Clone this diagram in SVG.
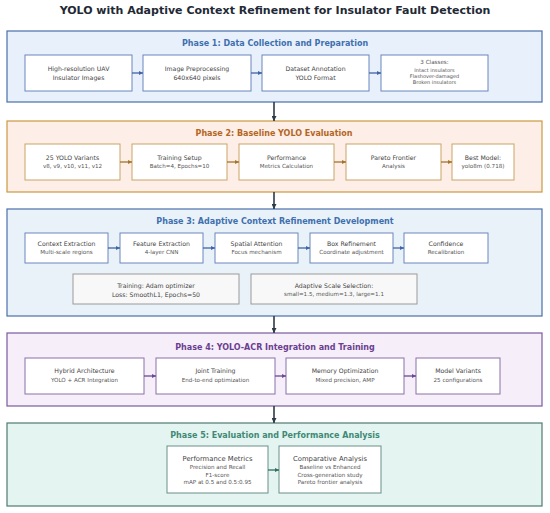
<svg xmlns="http://www.w3.org/2000/svg" width="550" height="513" viewBox="0 0 550 513">
<defs>
<marker id="ab" viewBox="0 0 10 10" refX="10" refY="5" markerWidth="4" markerHeight="4" orient="auto" markerUnits="userSpaceOnUse"><path d="M0,0 L10,5 L0,10 z" fill="#3f63a3"/></marker>
<marker id="ao" viewBox="0 0 10 10" refX="10" refY="5" markerWidth="4" markerHeight="4" orient="auto" markerUnits="userSpaceOnUse"><path d="M0,0 L10,5 L0,10 z" fill="#a5742c"/></marker>
<marker id="ap" viewBox="0 0 10 10" refX="10" refY="5" markerWidth="4" markerHeight="4" orient="auto" markerUnits="userSpaceOnUse"><path d="M0,0 L10,5 L0,10 z" fill="#6a4a92"/></marker>
<marker id="at" viewBox="0 0 10 10" refX="10" refY="5" markerWidth="4" markerHeight="4" orient="auto" markerUnits="userSpaceOnUse"><path d="M0,0 L10,5 L0,10 z" fill="#2f6f62"/></marker>
<marker id="ad" viewBox="0 0 10 10" refX="10" refY="5" markerWidth="5" markerHeight="5" orient="auto" markerUnits="userSpaceOnUse"><path d="M0,0 L10,5 L0,10 z" fill="#2d3a48"/></marker>
</defs>
<style>
text{font-family:"DejaVu Sans","Liberation Sans",sans-serif;text-anchor:middle;dominant-baseline:central}
.title{font-size:11px;font-weight:bold;fill:#1f2a36}
.pt{font-size:8px;font-weight:bold}
.l1{font-size:6.2px;fill:#444}
.l2{font-size:5.6px;fill:#555}
.l3{font-size:5px;fill:#555}
.sb{fill:#fff;stroke-width:1}
.c{fill:none;stroke-width:1.3}
</style>
<text class="title" x="275" y="10">YOLO with Adaptive Context Refinement for Insulator Fault Detection</text>

<g id="phase1">
<rect x="7" y="31" width="535" height="71" fill="#e8f1fb" stroke="#4a6ea9" stroke-width="1.2"/>
<text class="pt" x="275" y="43" fill="#3e6fae">Phase 1: Data Collection and Preparation</text>
</g>
<g id="p1n1"><rect class="sb" x="25" y="55" width="107" height="36" stroke="#6a86bd"/><text class="l1" x="78.5" y="68">High-resolution UAV</text><text class="l1" x="78.5" y="77">Insulator Images</text></g>
<g id="p1n2"><rect class="sb" x="143" y="55" width="108" height="36" stroke="#6a86bd"/><text class="l1" x="197" y="68">Image Preprocessing</text><text class="l1" x="197" y="77">640x640 pixels</text></g>
<g id="p1n3"><rect class="sb" x="262" y="55" width="107" height="36" stroke="#6a86bd"/><text class="l1" x="315.5" y="68">Dataset Annotation</text><text class="l1" x="315.5" y="77">YOLO Format</text></g>
<g id="p1n4"><rect class="sb" x="381" y="55" width="107" height="36" stroke="#6a86bd"/><text class="l2" x="434.5" y="62">3 Classes:</text><text class="l3" x="434.5" y="70">Intact insulators</text><text class="l3" x="434.5" y="76">Flashover-damaged</text><text class="l3" x="434.5" y="82">Broken insulators</text></g>

<g id="phase2">
<rect x="7" y="121" width="535" height="71" fill="#fdeee8" stroke="#c9993f" stroke-width="1.2"/>
<text class="pt" x="274" y="133" fill="#b3661e">Phase 2: Baseline YOLO Evaluation</text>
</g>
<g id="p2n1"><rect class="sb" x="25" y="144" width="95" height="36" stroke="#c9a465"/><text class="l1" x="72.5" y="157">25 YOLO Variants</text><text class="l2" x="72.5" y="166">v8, v9, v10, v11, v12</text></g>
<g id="p2n2"><rect class="sb" x="132" y="144" width="95" height="36" stroke="#c9a465"/><text class="l1" x="179.5" y="157">Training Setup</text><text class="l2" x="179.5" y="166">Batch=4, Epochs=10</text></g>
<g id="p2n3"><rect class="sb" x="239" y="144" width="95" height="36" stroke="#c9a465"/><text class="l1" x="286.5" y="157">Performance</text><text class="l2" x="286.5" y="166">Metrics Calculation</text></g>
<g id="p2n4"><rect class="sb" x="346" y="144" width="95" height="36" stroke="#c9a465"/><text class="l1" x="393.5" y="157">Pareto Frontier</text><text class="l2" x="393.5" y="166">Analysis</text></g>
<g id="p2n5"><rect class="sb" x="452" y="144" width="62" height="36" stroke="#c9a465"/><text class="l1" x="483" y="157">Best Model:</text><text class="l2" x="483" y="166">yolo8m (0.718)</text></g>

<g id="phase3">
<rect x="7" y="209" width="535" height="107" fill="#eaf2f9" stroke="#4a6ea9" stroke-width="1.2"/>
<text class="pt" x="275" y="221" fill="#3e6fae">Phase 3: Adaptive Context Refinement Development</text>
</g>
<g id="p3n1"><rect class="sb" x="25" y="233" width="83" height="30" stroke="#6a86bd"/><text class="l1" x="66.5" y="243">Context Extraction</text><text class="l2" x="66.5" y="252">Multi-scale regions</text></g>
<g id="p3n2"><rect class="sb" x="120" y="233" width="83" height="30" stroke="#6a86bd"/><text class="l1" x="161.5" y="243">Feature Extraction</text><text class="l2" x="161.5" y="252">4-layer CNN</text></g>
<g id="p3n3"><rect class="sb" x="215" y="233" width="83" height="30" stroke="#6a86bd"/><text class="l1" x="256.5" y="243">Spatial Attention</text><text class="l2" x="256.5" y="252">Focus mechanism</text></g>
<g id="p3n4"><rect class="sb" x="310" y="233" width="83" height="30" stroke="#6a86bd"/><text class="l1" x="351.5" y="243">Box Refinement</text><text class="l2" x="351.5" y="252">Coordinate adjustment</text></g>
<g id="p3n5"><rect class="sb" x="404" y="233" width="84" height="30" stroke="#6a86bd"/><text class="l1" x="446" y="243">Confidence</text><text class="l2" x="446" y="252">Recalibration</text></g>
<g id="p3n6"><rect x="73" y="274" width="166" height="30" fill="#f8f8f8" stroke="#9a9a9a"/><text class="l1" x="156" y="285">Training: Adam optimizer</text><text class="l1" x="156" y="294">Loss: SmoothL1, Epochs=50</text></g>
<g id="p3n7"><rect x="251" y="274" width="166" height="30" fill="#f8f8f8" stroke="#9a9a9a"/><text class="l1" x="334" y="285">Adaptive Scale Selection:</text><text class="l2" x="334" y="294">small=1.5, medium=1.3, large=1.1</text></g>

<g id="phase4">
<rect x="7" y="333" width="535" height="73" fill="#f6eef8" stroke="#7a5a9e" stroke-width="1.2"/>
<text class="pt" x="275" y="347" fill="#6a3f91">Phase 4: YOLO-ACR Integration and Training</text>
</g>
<g id="p4n1"><rect class="sb" x="25" y="358" width="119" height="36" stroke="#8a70aa"/><text class="l1" x="84.5" y="370">Hybrid Architecture</text><text class="l2" x="84.5" y="380">YOLO + ACR Integration</text></g>
<g id="p4n2"><rect class="sb" x="156" y="358" width="119" height="36" stroke="#8a70aa"/><text class="l1" x="215.5" y="370">Joint Training</text><text class="l2" x="215.5" y="380">End-to-end optimization</text></g>
<g id="p4n3"><rect class="sb" x="286" y="358" width="118" height="36" stroke="#8a70aa"/><text class="l1" x="345" y="370">Memory Optimization</text><text class="l2" x="345" y="380">Mixed precision, AMP</text></g>
<g id="p4n4"><rect class="sb" x="416" y="358" width="84" height="36" stroke="#8a70aa"/><text class="l1" x="458" y="370">Model Variants</text><text class="l2" x="458" y="380">25 configurations</text></g>

<g id="phase5">
<rect x="7" y="423" width="535" height="83" fill="#e4f4f0" stroke="#4f7a72" stroke-width="1.2"/>
<text class="pt" x="275" y="435" fill="#3f8a76">Phase 5: Evaluation and Performance Analysis</text>
</g>
<g id="p5n1"><rect class="sb" x="167" y="446" width="101" height="47" stroke="#6a8f88"/><text class="l1" x="217.5" y="459" style="font-size:6.8px">Performance Metrics</text><text class="l2" x="217.5" y="467">Precision and Recall</text><text class="l2" x="217.5" y="475">F1-score</text><text class="l2" x="217.5" y="482">mAP at 0.5 and 0.5:0.95</text></g>
<g id="p5n2"><rect class="sb" x="279" y="446" width="102" height="47" stroke="#6a8f88"/><text class="l1" x="330" y="459" style="font-size:6.8px">Comparative Analysis</text><text class="l2" x="330" y="467">Baseline vs Enhanced</text><text class="l2" x="330" y="475">Cross-generation study</text><text class="l2" x="330" y="482">Pareto frontier analysis</text></g>

<g id="connectors">
<g class="c" stroke="#3f63a3">
<line x1="132" y1="73" x2="143" y2="73" marker-end="url(#ab)"/>
<line x1="251" y1="73" x2="262" y2="73" marker-end="url(#ab)"/>
<line x1="369" y1="73" x2="381" y2="73" marker-end="url(#ab)"/>
<line x1="108" y1="248" x2="120" y2="248" marker-end="url(#ab)"/>
<line x1="203" y1="248" x2="215" y2="248" marker-end="url(#ab)"/>
<line x1="298" y1="248" x2="310" y2="248" marker-end="url(#ab)"/>
<line x1="393" y1="248" x2="404" y2="248" marker-end="url(#ab)"/>
</g>
<g class="c" stroke="#a5742c">
<line x1="120" y1="162" x2="132" y2="162" marker-end="url(#ao)"/>
<line x1="227" y1="162" x2="239" y2="162" marker-end="url(#ao)"/>
<line x1="334" y1="162" x2="346" y2="162" marker-end="url(#ao)"/>
<line x1="441" y1="162" x2="452" y2="162" marker-end="url(#ao)"/>
</g>
<g class="c" stroke="#6a4a92">
<line x1="144" y1="376" x2="156" y2="376" marker-end="url(#ap)"/>
<line x1="275" y1="376" x2="286" y2="376" marker-end="url(#ap)"/>
<line x1="404" y1="376" x2="416" y2="376" marker-end="url(#ap)"/>
</g>
<line class="c" stroke="#2f6f62" x1="268" y1="470" x2="279" y2="470" marker-end="url(#at)"/>
<g class="c" stroke="#2d3a48" style="stroke-width:1.6">
<line x1="274" y1="102" x2="274" y2="121" marker-end="url(#ad)"/>
<line x1="274" y1="192" x2="274" y2="209" marker-end="url(#ad)"/>
<line x1="274" y1="316" x2="274" y2="333" marker-end="url(#ad)"/>
<line x1="274" y1="406" x2="274" y2="423" marker-end="url(#ad)"/>
</g>
</g>
</svg>
